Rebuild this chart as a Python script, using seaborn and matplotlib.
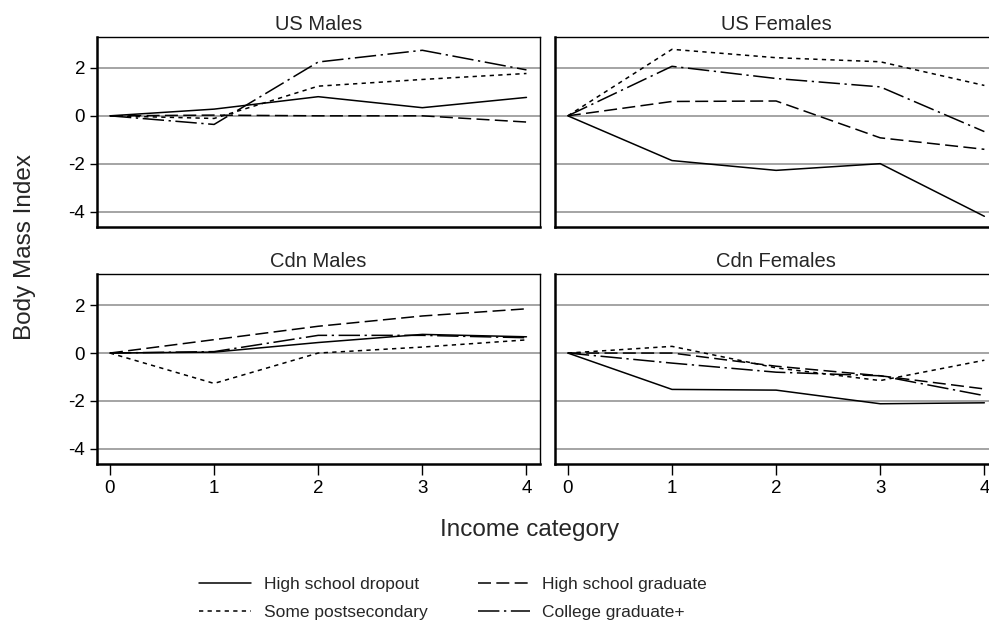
import matplotlib
matplotlib.use("Agg")
import matplotlib.pyplot as plt
import seaborn as sns
import pandas as pd

# income categories on the x axis
income = [0, 1, 2, 3, 4]
groups = ["High school dropout", "High school graduate",
          "Some postsecondary", "College graduate+"]
panels = ["US Males", "US Females", "Cdn Males", "Cdn Females"]

# values (BMI relative to income category 0)
us_m_dropout = [0, 0.28, 0.80, 0.34, 0.77]
us_m_hsgrad = [0, 0.03, 0.00, 0.00, -0.26]
us_m_postsec = [0, -0.11, 1.24, 1.52, 1.77]
us_m_college = [0, -0.36, 2.25, 2.74, 1.92]

us_f_dropout = [0, -1.87, -2.28, -2.00, -4.20]
us_f_hsgrad = [0, 0.60, 0.62, -0.92, -1.40]
us_f_postsec = [0, 2.78, 2.43, 2.26, 1.27]
us_f_college = [0, 2.07, 1.56, 1.21, -0.66]

cdn_m_dropout = [0, 0.04, 0.44, 0.78, 0.68]
cdn_m_hsgrad = [0, 0.56, 1.12, 1.55, 1.85]
cdn_m_postsec = [0, -1.27, 0.00, 0.25, 0.55]
cdn_m_college = [0, 0.06, 0.74, 0.74, 0.64]

cdn_f_dropout = [0, -1.52, -1.55, -2.12, -2.08]
cdn_f_hsgrad = [0, 0.00, -0.55, -0.95, -1.50]
cdn_f_postsec = [0, 0.28, -0.62, -1.15, -0.30]
cdn_f_college = [0, -0.42, -0.80, -0.95, -1.78]

series = {
    "US Males": [us_m_dropout, us_m_hsgrad, us_m_postsec, us_m_college],
    "US Females": [us_f_dropout, us_f_hsgrad, us_f_postsec, us_f_college],
    "Cdn Males": [cdn_m_dropout, cdn_m_hsgrad, cdn_m_postsec, cdn_m_college],
    "Cdn Females": [cdn_f_dropout, cdn_f_hsgrad, cdn_f_postsec, cdn_f_college],
}

rows = []
for panel in panels:
    for grp, vals in zip(groups, series[panel]):
        for x, v in zip(income, vals):
            rows.append({"panel": panel, "group": grp, "income": x, "bmi": v})
df = pd.DataFrame(rows)

sns.set_style("white")
plt.rcParams["font.family"] = ["Liberation Sans", "DejaVu Sans"]
plt.rcParams["axes.unicode_minus"] = False

dashes = {
    "High school dropout": "",
    "High school graduate": (8.5, 3.5),
    "Some postsecondary": (2.8, 2.8),
    "College graduate+": (14, 3, 1.5, 3),
}

fig = plt.figure(figsize=(9.89, 6.36), dpi=100)
positions = [
    [0.098, 0.643, 0.448, 0.299],
    [0.561, 0.643, 0.448, 0.299],
    [0.098, 0.270, 0.448, 0.299],
    [0.561, 0.270, 0.448, 0.299],
]

axes = []
for i, panel in enumerate(panels):
    ax = fig.add_axes(positions[i])
    sub = df[df["panel"] == panel]
    sns.lineplot(data=sub, x="income", y="bmi", style="group", style_order=groups,
                 dashes=dashes, color="black", linewidth=1.1, ax=ax, legend=(i == 0))
    ax.set_xlim(-0.125, 4.13)
    ax.set_ylim(-4.65, 3.3)
    ax.set_yticks([-4, -2, 0, 2])
    ax.set_xticks(income)
    ax.grid(axis="y", color="#8c8c8c", linewidth=1.1)
    ax.set_axisbelow(True)
    ax.set_title(panel, fontsize=14.5, pad=5)
    ax.set_xlabel("")
    ax.set_ylabel("")
    for side in ["top", "right"]:
        ax.spines[side].set_linewidth(1.0)
        ax.spines[side].set_color("black")
    for side in ["left", "bottom"]:
        ax.spines[side].set_linewidth(1.8)
        ax.spines[side].set_color("black")
    ax.tick_params(axis="y", direction="out", length=5, width=1, labelsize=13.5,
                   left=(i % 2 == 0), labelleft=(i % 2 == 0), colors="black")
    ax.tick_params(axis="x", direction="out", length=8, width=1, labelsize=13.5,
                   bottom=(i >= 2), labelbottom=(i >= 2), colors="black")
    axes.append(ax)

handles, labels = axes[0].get_legend_handles_labels()
axes[0].get_legend().remove()
lookup = dict(zip(labels, handles))
order = ["High school dropout", "Some postsecondary",
         "High school graduate", "College graduate+"]
fig.legend([lookup[k] for k in order], order, loc="center", ncol=2,
           bbox_to_anchor=(0.458, 0.059), frameon=False, fontsize=12.5,
           handlelength=3.0, handletextpad=0.7, columnspacing=2.9,
           labelspacing=0.72)

fig.text(0.025, 0.612, "Body Mass Index", rotation=90, ha="center", va="center",
         fontsize=17.5)
fig.text(0.535, 0.167, "Income category", ha="center", va="center", fontsize=17.5)

fig.savefig("out.png", dpi=100)
